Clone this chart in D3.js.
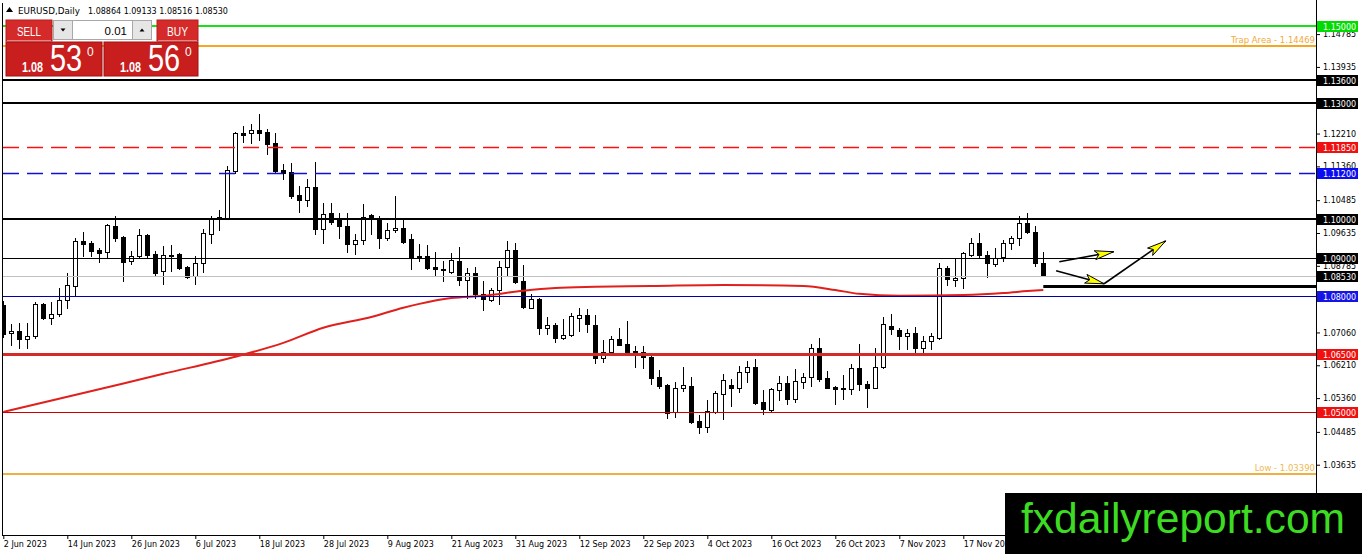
<!DOCTYPE html>
<html>
<head>
<meta charset="utf-8">
<script src="https://cdn.jsdelivr.net/npm/d3@7"></script>
<style>
html, body { margin: 0; padding: 0; background: #fff; overflow: hidden; }
svg { display: block; }
</style>
</head>
<body>
<svg id="chart" width="1362" height="554"></svg>
<script>
// header / one-click panel values
const symbolTitle = "EURUSD,Daily";
const lastQuote = ["1.08864", "1.09133", "1.08516", "1.08530"];
const bidPrice = "1.08530";
const askPrice = "1.08560";
const lotSize = "0.01";

// daily candles, bar 0 = 2 Jun 2023
const opens = [1.0777,1.0705,1.0710,1.0689,1.0697,1.0780,1.0744,1.0754,1.0790,1.0826,
  1.0943,1.0938,1.0920,1.0915,1.0982,1.0953,1.0891,1.0904,1.0959,1.0909,
  1.0865,1.0907,1.0909,1.0876,1.0852,1.0886,1.0961,1.1000,1.1003,1.1124,
  1.1223,1.1223,1.1231,1.1225,1.1197,1.1127,1.1122,1.1062,1.1049,1.1083,
  1.0974,1.1016,1.0997,1.0982,1.0935,1.0946,1.1010,1.1000,1.0951,1.0972,
  1.0977,1.0948,1.0904,1.0904,1.0876,1.0871,1.0863,1.0891,1.0842,1.0860,
  1.0806,1.0790,1.0816,1.0876,1.0920,1.0839,1.0770,1.0793,1.0718,1.0725,
  1.0692,1.0700,1.0744,1.0751,1.0725,1.0640,1.0656,1.0689,1.0676,1.0658,
  1.0656,1.0643,1.0591,1.0570,1.0500,1.0562,1.0567,1.0477,1.0461,1.0500,
  1.0547,1.0570,1.0562,1.0604,1.0617,1.0526,1.0505,1.0557,1.0575,1.0534,
  1.0578,1.0591,1.0666,1.0588,1.0565,1.0562,1.0560,1.0614,1.0573,1.0562,
  1.0617,1.0723,1.0713,1.0697,1.0705,1.0666,1.0684,1.0692,1.0873,1.0842,
  1.0847,1.0907,1.0938,1.0907,1.0883,1.0902,1.0938,1.0951,1.0990,1.0966,
  1.08864];
const highs = [1.0788,1.0728,1.0731,1.0731,1.0785,1.0782,1.0785,1.0821,1.0860,1.0951,
  1.0966,1.0943,1.0925,1.0987,1.1008,1.0956,1.0917,1.0974,1.0961,1.0917,
  1.0930,1.0933,1.0912,1.0878,1.0904,1.0974,1.1008,1.1023,1.1137,1.1225,
  1.1241,1.1246,1.1272,1.1233,1.1223,1.1142,1.1145,1.1085,1.1104,1.1148,
  1.1041,1.1041,1.1016,1.1016,1.0961,1.1039,1.1013,1.1008,1.0990,1.1060,
  1.1003,1.0961,1.0935,1.0933,1.0915,1.0891,1.0912,1.0927,1.0873,1.0876,
  1.0839,1.0821,1.0891,1.0943,1.0938,1.0881,1.0806,1.0795,1.0746,1.0731,
  1.0741,1.0757,1.0770,1.0767,1.0751,1.0687,1.0697,1.0718,1.0736,1.0671,
  1.0671,1.0653,1.0609,1.0573,1.0578,1.0617,1.0591,1.0492,1.0531,1.0555,
  1.0599,1.0586,1.0619,1.0632,1.0637,1.0557,1.0562,1.0593,1.0593,1.0612,
  1.0601,1.0676,1.0692,1.0606,1.0567,1.0596,1.0624,1.0676,1.0580,1.0666,
  1.0746,1.0754,1.0718,1.0715,1.0720,1.0697,1.0705,1.0886,1.0878,1.0896,
  1.0914,1.0951,1.0964,1.0917,1.0925,1.0946,1.0956,1.1008,1.1016,1.0982,
  1.09133];
const lows = [1.0694,1.0674,1.0666,1.0666,1.0692,1.0741,1.0728,1.0749,1.0770,1.0803,
  1.0904,1.0904,1.0889,1.0902,1.0943,1.0839,1.0883,1.0899,1.0902,1.0855,
  1.0832,1.0865,1.0871,1.0847,1.0832,1.0863,1.0938,1.0972,1.1000,1.1119,
  1.1199,1.1197,1.1205,1.1168,1.1119,1.1104,1.1054,1.1018,1.1034,1.0961,
  1.0938,1.0987,1.0951,1.0915,1.0909,1.0935,1.0961,1.0925,1.0946,1.0966,
  1.0938,1.0871,1.0891,1.0871,1.0852,1.0839,1.0860,1.0829,1.0795,1.0795,
  1.0764,1.0788,1.0780,1.0852,1.0834,1.0770,1.0768,1.0702,1.0702,1.0681,
  1.0689,1.0697,1.0710,1.0707,1.0627,1.0630,1.0653,1.0674,1.0650,1.0617,
  1.0614,1.0573,1.0562,1.0485,1.0487,1.0555,1.0472,1.0446,1.0448,1.0498,
  1.0482,1.0516,1.0552,1.0578,1.0522,1.0495,1.0503,1.0531,1.0521,1.0526,
  1.0562,1.0567,1.0580,1.0561,1.0521,1.0534,1.0547,1.0557,1.0513,1.0561,
  1.0614,1.0702,1.0663,1.0663,1.0656,1.0653,1.0663,1.0690,1.0829,1.0826,
  1.0821,1.0904,1.0899,1.0850,1.0878,1.0891,1.0922,1.0933,1.0964,1.0878,
  1.08516];
const closes = [1.0702,1.0710,1.0689,1.0697,1.0780,1.0744,1.0754,1.0790,1.0829,1.0943,
  1.0935,1.0917,1.0912,1.0984,1.0951,1.0889,1.0904,1.0959,1.0907,1.0860,
  1.0907,1.0904,1.0873,1.0850,1.0886,1.0964,1.1000,1.1005,1.1127,1.1223,
  1.1218,1.1231,1.1223,1.1194,1.1124,1.1119,1.1060,1.1049,1.1083,1.0974,
  1.1013,1.0992,1.0982,1.0935,1.0946,1.1005,1.1000,1.0951,1.0972,1.0977,
  1.0940,1.0899,1.0899,1.0873,1.0871,1.0868,1.0894,1.0842,1.0860,1.0806,
  1.0793,1.0816,1.0876,1.0920,1.0837,1.0772,1.0793,1.0718,1.0725,1.0692,
  1.0700,1.0749,1.0751,1.0728,1.0640,1.0656,1.0689,1.0674,1.0656,1.0656,
  1.0643,1.0588,1.0567,1.0498,1.0562,1.0570,1.0474,1.0461,1.0503,1.0549,
  1.0583,1.0562,1.0604,1.0617,1.0523,1.0508,1.0560,1.0575,1.0534,1.0580,
  1.0591,1.0666,1.0586,1.0562,1.0560,1.0560,1.0614,1.0573,1.0562,1.0617,
  1.0728,1.0715,1.0697,1.0705,1.0666,1.0684,1.0697,1.0873,1.0845,1.0847,
  1.0912,1.0938,1.0907,1.0886,1.0899,1.0938,1.0951,1.0990,1.0966,1.0886,
  1.08530];

// moving average, read at these bars
const maBars = [0, 10, 20, 29, 35, 40, 46, 50, 52, 56, 60, 65, 69, 74, 81, 90, 100, 104, 107, 112, 120, 125, 128, 130];
const maValues = [1.0500, 1.0549, 1.0599, 1.0643, 1.0679, 1.0718, 1.0746, 1.0770, 1.0780, 1.0795, 1.0801, 1.0814,
  1.0821, 1.0824, 1.0826, 1.0829, 1.0826, 1.0816, 1.0806, 1.0801, 1.0803, 1.0808, 1.0813, 1.0816];

// time axis
const dateTickBars = [0, 8, 16, 24, 32, 40, 48, 56, 64, 72, 80, 88, 96, 104, 112, 120];
const dateTickLabels = ["2 Jun 2023", "14 Jun 2023", "26 Jun 2023", "6 Jul 2023", "18 Jul 2023", "28 Jul 2023",
  "9 Aug 2023", "21 Aug 2023", "31 Aug 2023", "12 Sep 2023", "22 Sep 2023", "4 Oct 2023",
  "16 Oct 2023", "26 Oct 2023", "7 Nov 2023", "17 Nov 2023"];

// price axis (1.13085 sits under the 1.13000 tag in the reference)
const priceTicks = [1.14785, 1.13935, 1.12210, 1.11360, 1.10485, 1.09635, 1.08785,
  1.07935, 1.07060, 1.06210, 1.05360, 1.04485, 1.03635];

// horizontal levels
const levelPrices = [1.15, 1.14469, 1.136, 1.13, 1.1185, 1.112, 1.10, 1.09, 1.0853, 1.08, 1.065, 1.05, 1.0339];
const levelLabels = ["1.15000", "Trap Area - 1.14469", "1.13600", "1.13000", "1.11850", "1.11200", "1.10000",
  "1.09000", "1.08530", "1.08000", "1.06500", "1.05000", "Low - 1.03390"];

// short support line from the last bar
const supportPrice = 1.0827;
const supportFromBar = 130;

// arrows: [fromBar, fromPrice, toBar, toPrice]
const arrows = [
  [132.0, 1.0889, 138.8, 1.0915],
  [131.6, 1.0866, 137.6, 1.0832],
  [137.6, 1.0832, 145.3, 1.0943]
];

const watermark = "fxdailyreport.com";

// ---- look of the levels (kept apart from the data) ----
const levelLook = {
  "1.15000": { stroke: "#19e019", width: 2, box: "#00dc00" },
  "Trap Area - 1.14469": { stroke: "#f5a623", width: 2, note: "#f3aa3c" },
  "1.13600": { stroke: "#000", width: 2, box: "#000" },
  "1.13000": { stroke: "#000", width: 2, box: "#000" },
  "1.11850": { stroke: "#ff1010", width: 1.5, dash: "16,8", box: "#f01010" },
  "1.11200": { stroke: "#1010d0", width: 1.5, dash: "16,8", box: "#0c0cf0" },
  "1.10000": { stroke: "#000", width: 2, box: "#000" },
  "1.09000": { stroke: "#000", width: 1, box: "#000" },
  "1.08530": { stroke: "#c0c0c0", width: 1, box: "#000" },
  "1.08000": { stroke: "#0000a8", width: 1, box: "#1414e6" },
  "1.06500": { stroke: "#d42a2a", width: 3, box: "#f01010" },
  "1.05000": { stroke: "#cc0000", width: 1, box: "#f01010" },
  "Low - 1.03390": { stroke: "#f0b040", width: 2, note: "#f0b850" }
};

const W = 1362, H = 554;
const plotLeft = 3, plotRight = 1317, plotBottom = 535;
const axisFont = "DejaVu Sans, sans-serif";

const svg = d3.select("#chart");
svg.append("rect").attr("width", W).attr("height", H).attr("fill", "#fff");

const x = d3.scaleLinear().domain([0, 164]).range([3.3, 3.3 + 8 * 164]);
const y = d3.scaleLinear().domain([1.05, 1.15]).range([412, 25.8]);
const px = (i) => Math.round(x(i)) + 0.5;
const py = (p) => Math.round(y(p));

svg.append("defs").append("clipPath").attr("id", "plot-clip")
  .append("rect").attr("x", plotLeft).attr("y", 0)
  .attr("width", plotRight - plotLeft).attr("height", plotBottom);

const plot = svg.append("g").attr("clip-path", "url(#plot-clip)");

// candles
const bars = closes.map((c, i) => ({ i, o: opens[i], h: highs[i], l: lows[i], c }));
const candles = plot.append("g");
candles.selectAll("line")
  .data(bars)
  .join("line")
  .attr("x1", (d) => px(d.i))
  .attr("x2", (d) => px(d.i))
  .attr("y1", (d) => py(d.h))
  .attr("y2", (d) => py(d.l) + 1)
  .attr("stroke", "#000")
  .attr("stroke-width", 1);
candles.selectAll("rect")
  .data(bars)
  .join("rect")
  .attr("x", (d) => px(d.i) - 2)
  .attr("width", 4)
  .attr("y", (d) => py(Math.max(d.o, d.c)) + 0.5)
  .attr("height", (d) => Math.max(0.01, py(Math.min(d.o, d.c)) - py(Math.max(d.o, d.c))))
  .attr("fill", (d) => (d.c >= d.o ? "#fff" : "#000"))
  .attr("stroke", "#000")
  .attr("stroke-width", 1);

// moving average
const maLine = d3.line()
  .x((d, k) => x(maBars[k]))
  .y((d) => y(d))
  .curve(d3.curveMonotoneX);
plot.append("path")
  .attr("d", maLine(maValues))
  .attr("fill", "none")
  .attr("stroke", "#e0201c")
  .attr("stroke-width", 2);

// horizontal levels
const levels = plot.append("g");
levelPrices.forEach((p, k) => {
  const look = levelLook[levelLabels[k]];
  const yy = py(p) + (look.width % 2 ? 0.5 : 0);
  levels.append("line")
    .attr("x1", plotLeft).attr("x2", plotRight)
    .attr("y1", yy).attr("y2", yy)
    .style("stroke", look.stroke)
    .style("stroke-width", look.width)
    .style("stroke-dasharray", look.dash || "none");
  if (look.note) {
    levels.append("text")
      .attr("x", plotRight - 2)
      .attr("y", yy - 3)
      .attr("text-anchor", "end")
      .attr("font-family", axisFont)
      .attr("font-size", 8.5)
      .attr("fill", look.note)
      .text(levelLabels[k]);
  }
});

// support line from the last candle
const sy = py(supportPrice) + 0.5;
levels.append("line")
  .attr("x1", x(supportFromBar)).attr("x2", plotRight)
  .attr("y1", sy).attr("y2", sy)
  .attr("stroke", "#000")
  .attr("stroke-width", 3);

// arrows
const arrowG = plot.append("g");
arrows.forEach(([b0, p0, b1, p1]) => {
  const x0 = x(b0), y0 = y(p0), x1 = x(b1), y1 = y(p1);
  arrowG.append("line")
    .attr("x1", x0).attr("y1", y0).attr("x2", x1).attr("y2", y1)
    .attr("stroke", "#000").attr("stroke-width", 1.6);
  const ang = Math.atan2(y1 - y0, x1 - x0);
  const len = 19, half = 4.5;
  const bx = x1 - len * Math.cos(ang), by = y1 - len * Math.sin(ang);
  const nx = -Math.sin(ang) * half, ny = Math.cos(ang) * half;
  arrowG.append("path")
    .attr("d", `M${x1},${y1}L${bx + nx},${by + ny}L${bx + 4 * Math.cos(ang)},${by + 4 * Math.sin(ang)}L${bx - nx},${by - ny}Z`)
    .attr("fill", "#ffff00")
    .attr("stroke", "#000")
    .attr("stroke-width", 1);
});

// price axis
const yAxis = d3.axisRight(y)
  .tickValues(priceTicks)
  .tickFormat(d3.format(".5f"))
  .tickSize(3)
  .tickPadding(3);
svg.append("g")
  .attr("transform", `translate(${plotRight},0)`)
  .call(yAxis)
  .call((g) => g.select(".domain").remove())
  .attr("font-family", axisFont)
  .attr("font-size", 8)
  .call((g) => g.selectAll("text").attr("fill", "#000"));

// level labels on the price axis
const boxes = svg.append("g");
levelPrices.forEach((p, k) => {
  const look = levelLook[levelLabels[k]];
  if (!look.box) return;
  const yy = y(p);
  boxes.append("rect")
    .attr("x", plotRight).attr("y", Math.round(yy) - 5)
    .attr("width", 41).attr("height", 11)
    .attr("fill", look.box);
  boxes.append("text")
    .attr("x", plotRight + 6).attr("y", Math.round(yy) + 3.5)
    .attr("font-family", axisFont)
    .attr("font-size", 8)
    .attr("fill", "#fff")
    .text(levelLabels[k]);
});

// time axis
const xAxis = d3.axisBottom(x)
  .tickValues(dateTickBars)
  .tickFormat((d, k) => dateTickLabels[k])
  .tickSize(4)
  .tickPadding(2);
svg.append("g")
  .attr("transform", `translate(0,${plotBottom})`)
  .call(xAxis)
  .call((g) => g.select(".domain").remove())
  .attr("font-family", axisFont)
  .attr("font-size", 8)
  .call((g) => g.selectAll("text").attr("text-anchor", "start").attr("x", 0).attr("fill", "#000"));

// frame
const frame = svg.append("g").attr("stroke", "#000").attr("stroke-width", 1);
frame.append("line").attr("x1", 2.5).attr("x2", 2.5).attr("y1", 3).attr("y2", plotBottom + 1);
frame.append("line").attr("x1", plotRight - 0.5).attr("x2", plotRight - 0.5).attr("y1", 0).attr("y2", plotBottom + 1);
frame.append("line").attr("x1", 2.5).attr("x2", plotRight - 0.5).attr("y1", plotBottom + 0.5).attr("y2", plotBottom + 0.5);

// title line
const title = svg.append("g").attr("font-family", axisFont).attr("font-size", 8).attr("fill", "#000");
title.append("path").attr("d", "M6,12L9.5,7L13,12Z").attr("fill", "#000");
title.append("text").attr("x", 18).attr("y", 13.5).attr("font-size", 8.8).text(symbolTitle);
title.append("text").attr("x", 88).attr("y", 13.5).text(lastQuote.join(" "));

// one-click trading panel
const panel = svg.append("g").attr("font-family", "Liberation Sans, Arial, sans-serif");
function tradeButton(x0, w, label, lw) {
  panel.append("rect").attr("x", x0).attr("y", 20).attr("width", w).attr("height", 21)
    .attr("fill", "#d42a2a").attr("stroke", "#b81c1c");
  panel.append("line").attr("x1", x0 + 1).attr("x2", x0 + w - 1).attr("y1", 40.5).attr("y2", 40.5)
    .attr("stroke", "#ee8080");
  panel.append("text").attr("x", x0 + w / 2).attr("y", 35.5).attr("text-anchor", "middle")
    .attr("font-size", 12.5).attr("fill", "#fff")
    .attr("textLength", lw).attr("lengthAdjust", "spacingAndGlyphs").text(label);
}
tradeButton(6, 46, "SELL", 24);
tradeButton(157, 41, "BUY", 21);

panel.append("rect").attr("x", 53.5).attr("y", 20.5).attr("width", 98).attr("height", 19)
  .attr("fill", "#fff").attr("stroke", "#a8a8a8");
panel.append("rect").attr("x", 53.5).attr("y", 20.5).attr("width", 19).attr("height", 19)
  .attr("fill", "#e6e6e6").attr("stroke", "#a8a8a8");
panel.append("rect").attr("x", 132.5).attr("y", 20.5).attr("width", 19).attr("height", 19)
  .attr("fill", "#e6e6e6").attr("stroke", "#a8a8a8");
panel.append("path").attr("d", "M60.5,28.5L65.5,28.5L63,31.5Z").attr("fill", "#000");
panel.append("path").attr("d", "M139.5,31.5L144.5,31.5L142,28.5Z").attr("fill", "#000");
panel.append("text").attr("x", 127).attr("y", 35).attr("text-anchor", "end")
  .attr("font-size", 11.5).attr("fill", "#000").text(lotSize);

function pricePanel(x0, w, price) {
  panel.append("rect").attr("x", x0).attr("y", 42).attr("width", w).attr("height", 34)
    .attr("fill", "#c81e1e").attr("stroke", "#a01010");
  panel.append("text").attr("x", x0 + 16).attr("y", 72).attr("font-size", 14).attr("font-weight", "bold")
    .attr("fill", "#fff").attr("textLength", 21).attr("lengthAdjust", "spacingAndGlyphs")
    .text(price.slice(0, 4));
  // big pip digits: narrow glyphs made by stretching a 29px face upward
  panel.append("text")
    .attr("transform", `translate(${x0 + 44},70.5) scale(1,1.26)`)
    .attr("font-size", 29)
    .attr("fill", "#fff")
    .text(price.slice(4, 6));
  panel.append("text").attr("x", x0 + 81).attr("y", 55.5).attr("font-size", 12)
    .attr("fill", "#fff").text(price.slice(6));
}
pricePanel(6, 96, bidPrice);
pricePanel(104, 94, askPrice);

// watermark
svg.append("rect").attr("x", 1005).attr("y", 493).attr("width", W - 1005).attr("height", H - 493).attr("fill", "#000");
svg.append("text")
  .attr("x", 1021).attr("y", 533)
  .attr("font-family", "Liberation Sans, Arial, sans-serif")
  .attr("font-size", 42)
  .attr("fill", "#3ddc22")
  .attr("textLength", 324)
  .attr("lengthAdjust", "spacingAndGlyphs")
  .text(watermark);
</script>
</body>
</html>
